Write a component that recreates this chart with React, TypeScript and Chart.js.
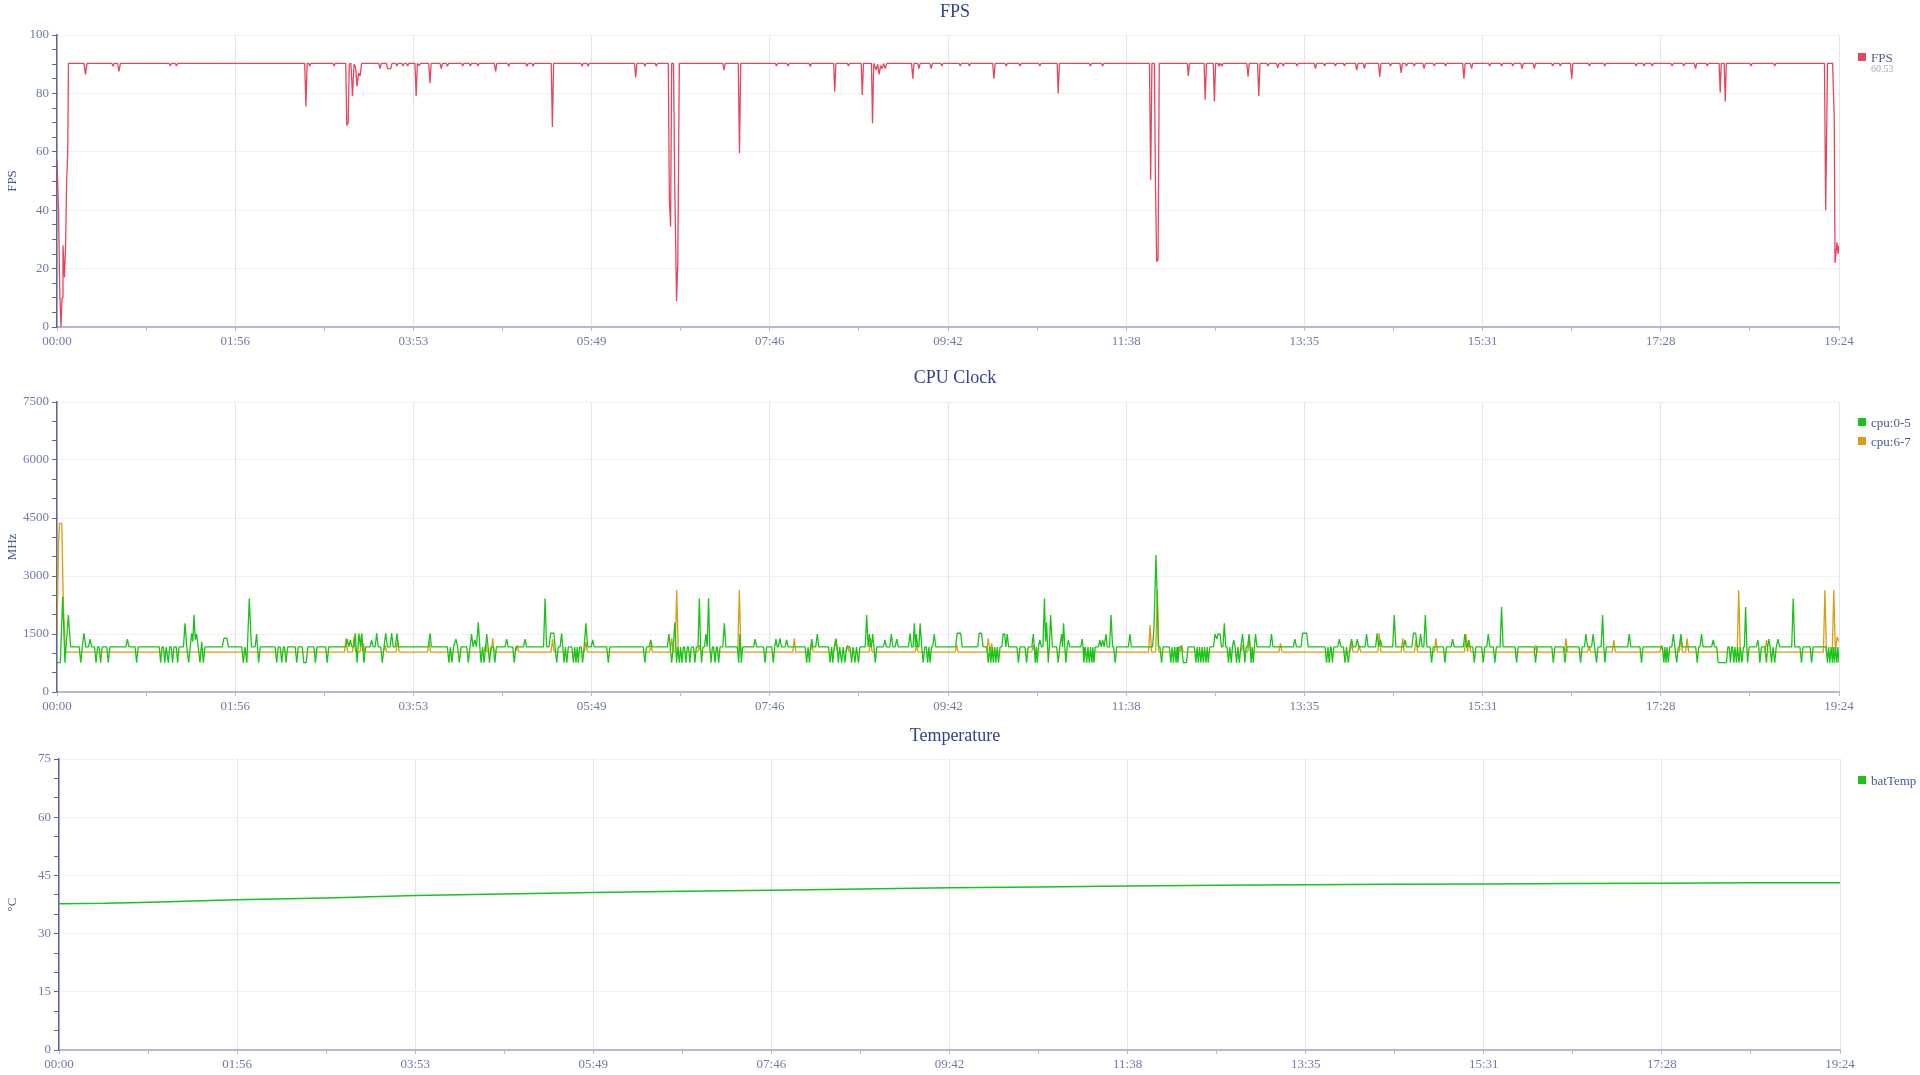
import React, { useEffect, useRef } from 'react';
import { Chart, registerables } from 'chart.js';

Chart.register(...registerables);

type Pair = [number, number];

// ---------- data ----------
const xTickLabels = ['00:00', '01:56', '03:53', '05:49', '07:46', '09:42', '11:38', '13:35', '15:31', '17:28', '19:24'];
const xMaxSeconds = 1164;
const xMinorStepSeconds = 58.2;

const fpsLegendNote = '60.53';

const fpsSeries: Pair[] = [
  [0, 57], [1, 40], [1.8, 12], [2.6, 0], [3.3, 10], [3.9, 28], [4.9, 17], [5.6, 28], [6.3, 50], [7, 60], [7.5, 90.3],
  [17.6, 90.3], [18.6, 86.5], [19.6, 90.3],
  [35.8, 90.3], [36.6, 89.3], [37.4, 90.3],
  [39.6, 90.3], [40.5, 87.5], [41.4, 90.3],
  [73.2, 90.3], [74, 89.4], [74.8, 90.3], [77.2, 90.3], [78, 89.4], [78.8, 90.3],
  [161.8, 90.3], [162.6, 75.5], [163.4, 90.3],
  [164.4, 90.3], [165.1, 89.3], [165.8, 90.3],
  [180.2, 90.3], [181, 89.4], [181.8, 90.3],
  [188.6, 90.3], [189.3, 69], [190.2, 70], [190.9, 90], [192, 90.3], [193, 79], [194, 90], [195, 89], [196, 82.5], [197, 87], [198, 86], [199, 90.3],
  [210.2, 90.3], [211, 88.5], [211.8, 90.3],
  [215.2, 90.3], [216, 88.5], [218, 88.5], [218.8, 90.3],
  [221.2, 90.3], [222, 89.4], [222.8, 90.3], [225.2, 90.3], [226, 89.4], [226.8, 90.3], [228.2, 90.3], [229, 89.4], [229.8, 90.3],
  [233.8, 90.3], [234.6, 79], [235.4, 90.3], [236.5, 89.5], [237.5, 90.3],
  [242.8, 90.3], [243.6, 83.5], [244.4, 90.3],
  [250.2, 90.3], [251, 88.5], [251.8, 90.3],
  [254.2, 90.3], [255, 89.3], [255.8, 90.3],
  [264.2, 90.3], [265, 89.4], [265.8, 90.3], [269.2, 90.3], [270, 89.4], [270.8, 90.3], [274.2, 90.3], [275, 89.4], [275.8, 90.3],
  [285.7, 90.3], [286.5, 87.5], [287.3, 90.3],
  [294.2, 90.3], [295, 89.3], [295.8, 90.3],
  [306.2, 90.3], [307, 89.3], [307.8, 90.3], [310.2, 90.3], [311, 89.3], [311.8, 90.3],
  [322.8, 90.3], [323.6, 68.5], [324.4, 90.3],
  [342.2, 90.3], [343, 89.3], [343.8, 90.3], [346.2, 90.3], [347, 89.3], [347.8, 90.3],
  [377.2, 90.3], [378, 85.5], [378.8, 90.3],
  [383.2, 90.3], [384, 89.3], [384.8, 90.3],
  [390.7, 90.3], [391.5, 89.3], [392.3, 90.3],
  [399.3, 90.3], [400, 43.5], [400.8, 34.4], [401.5, 90.3], [402.7, 90.3], [403.5, 49], [404.7, 8.8], [405.5, 22], [406.5, 90.3],
  [434.9, 90.3], [435.7, 88], [436.5, 90.3],
  [445, 90.3], [445.8, 59.5], [446.6, 90.3],
  [469.2, 90.3], [470, 89.4], [470.8, 90.3], [476.8, 90.3], [477.6, 89.4], [478.4, 90.3],
  [491.2, 90.3], [492, 89.2], [492.8, 90.3],
  [507.3, 90.3], [508, 80.6], [508.8, 90.3],
  [516.2, 90.3], [517, 89.4], [517.8, 90.3],
  [525.3, 90.3], [526, 79.5], [526.8, 90.3],
  [532, 90.3], [532.7, 69.8], [533.5, 90.3], [535, 88], [536, 90], [537, 86.5], [538, 89.5], [539, 88.5], [540, 90.3], [541, 88.5], [542, 90.3],
  [558.2, 90.3], [559, 85], [559.8, 90.3],
  [562.2, 90.3], [563, 88.5], [563.8, 90.3],
  [570.2, 90.3], [571, 88.5], [571.8, 90.3],
  [577.2, 90.3], [578, 89.4], [578.8, 90.3],
  [589.2, 90.3], [590, 89.4], [590.8, 90.3], [595.2, 90.3], [596, 89.4], [596.8, 90.3],
  [611.2, 90.3], [612, 85], [612.8, 90.3],
  [619.2, 90.3], [620, 89.4], [620.8, 90.3], [628.2, 90.3], [629, 89.4], [629.8, 90.3], [641.2, 90.3], [642, 89.4], [642.8, 90.3],
  [653.3, 90.3], [654, 80], [654.8, 90.3],
  [674.2, 90.3], [675, 89.4], [675.8, 90.3], [682.2, 90.3], [683, 89.4], [683.8, 90.3],
  [713.6, 90.3], [714.4, 50.4], [715.2, 90.3], [716.8, 90.3], [717.5, 50], [718.3, 22.4], [719.2, 23], [720, 90.3],
  [738.3, 90.3], [739, 86], [739.7, 90.3],
  [749.3, 90.3], [750, 77.8], [750.8, 90.3],
  [755.3, 90.3], [756, 77.2], [756.8, 90.3],
  [758.4, 90.3], [759, 89.3], [760, 90.3], [761, 89.3], [761.8, 90.3],
  [777.2, 90.3], [778, 85.7], [778.8, 90.3],
  [784.2, 90.3], [785, 79], [785.8, 90.3],
  [790.2, 90.3], [791, 89.4], [791.8, 90.3], [796.6, 90.3], [797.4, 88.8], [798.2, 90.3], [800.2, 90.3], [801, 89.4], [801.8, 90.3],
  [809.2, 90.3], [810, 89.4], [810.8, 90.3], [821.2, 90.3], [822, 88.5], [822.8, 90.3], [827.2, 90.3], [828, 89.4], [828.8, 90.3],
  [834.2, 90.3], [835, 89.4], [835.8, 90.3], [840.2, 90.3], [841, 89.4], [841.8, 90.3], [848.2, 90.3], [849, 88], [849.8, 90.3],
  [853.2, 90.3], [854, 88.5], [854.8, 90.3],
  [863.2, 90.3], [864, 85.7], [864.8, 90.3],
  [870.2, 90.3], [871, 89.4], [871.8, 90.3],
  [877.2, 90.3], [878, 87], [878.8, 90.3],
  [880.7, 90.3], [881.5, 89.4], [882.3, 90.3], [885.8, 90.3], [886.6, 89.4], [887.4, 90.3], [892.2, 90.3], [893, 88.5], [893.8, 90.3],
  [898.8, 90.3], [899.6, 89.4], [900.4, 90.3], [906.2, 90.3], [907, 89.4], [907.8, 90.3],
  [918.2, 90.3], [919, 85], [919.8, 90.3],
  [923.2, 90.3], [924, 88.5], [924.8, 90.3], [935, 90.3], [935.8, 89.4], [936.6, 90.3], [942.8, 90.3], [943.6, 89.4], [944.4, 90.3],
  [950.2, 90.3], [951, 89.4], [951.8, 90.3],
  [956.2, 90.3], [957, 88.5], [957.8, 90.3], [964.2, 90.3], [965, 88.5], [965.8, 90.3],
  [976.2, 90.3], [977, 89.4], [977.8, 90.3], [981.2, 90.3], [982, 89.4], [982.8, 90.3],
  [988.6, 90.3], [989.4, 85], [990.2, 90.3],
  [1000.2, 90.3], [1001, 89.4], [1001.8, 90.3], [1010.2, 90.3], [1011, 89.4], [1011.8, 90.3],
  [1030.7, 90.3], [1031.5, 89.4], [1032.3, 90.3], [1035.9, 90.3], [1036.7, 89.4], [1037.5, 90.3],
  [1041.2, 90.3], [1042, 89.4], [1042.8, 90.3], [1054.2, 90.3], [1055, 89.4], [1055.8, 90.3], [1061.8, 90.3], [1062.6, 89.4], [1063.4, 90.3],
  [1069.5, 90.3], [1070.3, 88.5], [1071.1, 90.3],
  [1077.2, 90.3], [1078, 89.4], [1078.8, 90.3],
  [1085.7, 90.3], [1086.4, 80.3], [1087.1, 90.3], [1089, 90.3], [1089.7, 77.2], [1090.4, 90.3],
  [1105.7, 90.3], [1106.5, 89.4], [1107.3, 90.3], [1121.2, 90.3], [1122, 89.4], [1122.8, 90.3],
  [1154.5, 90.3], [1155.3, 40], [1156.5, 90.3], [1159.8, 90.3], [1160.9, 72], [1161.4, 21.9], [1162.7, 29], [1163.4, 25], [1164, 28],
];

const cpu05Series: Pair[] = [
  [0, 758], [2.2, 758], [3.7, 2460], [5.2, 758], [7.4, 1990], [8.9, 1165],
  [14.5, 1165], [15.5, 758], [16.5, 1165], [17.6, 1520], [18.8, 1165],
  [20.6, 1165], [21.6, 1370], [22.6, 1165],
  [24.5, 1165], [25.5, 758], [26.5, 1165],
  [27.5, 1165], [28.5, 758], [29.5, 1165],
  [32.5, 1165], [33.5, 758], [34.5, 1165],
  [45, 1165], [46, 1370], [47, 1165],
  [51, 1165], [52, 758], [53, 1165],
  [66.8, 1165], [67.7, 758], [68.6, 1165], [69.5, 1165], [70.4, 758], [71.3, 1165], [71.8, 1165], [72.7, 758], [73.6, 1165],
  [74.6, 1165], [75.5, 758], [76.4, 1165], [77.9, 1165], [78.8, 758], [79.7, 1165],
  [82.6, 1165], [83.6, 1775], [84.8, 1165], [86, 758], [87, 1165], [88, 1520], [88.7, 1300], [89.5, 2000], [90.3, 1350], [91.2, 1500],
  [92.2, 1165], [93.4, 758], [94.5, 1300], [95.6, 758], [96.6, 1165],
  [108, 1165], [109, 1390], [111, 1390], [112, 1165],
  [120.7, 1165], [121.7, 758], [122.8, 1165], [124, 758], [125.6, 2420], [127, 1165], [129.4, 1165], [130.4, 1500], [131.7, 758], [132.8, 1165],
  [142.5, 1165], [143.5, 758], [144.5, 1165], [145.8, 1165], [146.8, 758], [147.8, 1165], [148.6, 1165], [149.6, 758], [150.6, 1165],
  [155.6, 1165], [156.6, 758], [157.6, 1165], [160.2, 1165], [161.2, 758], [162.8, 758], [163.8, 1165],
  [167.8, 1165], [168.8, 758], [169.8, 1165], [175.5, 1165], [176.5, 758], [177.5, 1165],
  [188.6, 1165], [189.6, 1370], [190.6, 1165], [191.6, 1345], [192.6, 1165], [194, 1165], [194.8, 1520], [196, 758], [197.2, 1520],
  [198.2, 1165], [199, 1520], [200.5, 758], [201.6, 1165], [204.5, 1165], [205.5, 1345], [206.5, 1165], [207.8, 1165], [208.8, 1520],
  [209.8, 1165], [211.5, 1165], [212.5, 758], [213.6, 1165], [214.7, 1520], [215.8, 1165], [217.6, 1165], [218.6, 1520], [219.6, 1165],
  [221, 1165], [222, 1520], [223, 1165],
  [242.6, 1165], [243.6, 1520], [244.6, 1165],
  [255, 1165], [256, 758], [257, 1165], [258, 758], [259, 1165], [260.6, 1370], [261.7, 1165], [262.8, 758], [263.9, 1165],
  [267.7, 1165], [268.7, 758], [269.8, 1165], [270.8, 1500], [271.8, 1165], [273, 1345], [274, 1165], [275.2, 1800], [276.2, 1165],
  [277, 758], [278, 1165], [279, 758], [280, 1165], [280.7, 1500], [281.6, 1165], [282.5, 758], [283.5, 1165], [285, 1165], [286, 758], [287, 1165],
  [292.7, 1165], [293.7, 1370], [294.7, 1165], [297.7, 1165], [298.7, 758], [299.7, 1165], [304.7, 1165], [305.7, 1370], [306.7, 1165],
  [317.8, 1165], [318.8, 2420], [319.8, 1165], [321.4, 1165], [322.4, 1520], [324.6, 1520], [325.4, 1165], [326.4, 758], [327.4, 1165],
  [328.6, 1165], [329.6, 1520], [330.4, 1165], [331.2, 758], [332.1, 1165], [333, 758], [334, 1165], [336.3, 1165], [337.3, 758],
  [338.2, 1165], [339, 758], [339.8, 1165], [340.5, 758], [341.4, 1165], [342.4, 1165], [343.3, 758], [344.3, 1165], [345.5, 1775],
  [346.6, 1165], [348.9, 1165], [349.9, 1345], [350.9, 1165],
  [359.1, 1165], [360.1, 758], [361.1, 1165],
  [383, 1165], [384, 758], [385, 1165], [386.8, 1165], [387.8, 1345], [388.8, 1165],
  [398.7, 1165], [399.7, 1500], [400.6, 1165], [401.5, 758], [402.5, 1165], [403.6, 1800], [404.7, 758], [405.6, 1165], [406.5, 758],
  [407.4, 1165], [408.2, 758], [409.2, 1165], [409.9, 1165], [410.8, 758], [411.7, 1165], [412.5, 1165], [413.4, 758], [414.3, 1165],
  [415.8, 1165], [416.7, 758], [417.6, 1165], [418.7, 1165], [419.6, 2420], [420.4, 1165], [421, 758], [421.9, 1165], [422.9, 1165],
  [423.9, 1500], [424.7, 1165], [425.6, 2420], [426.4, 1165], [427.2, 758], [428.1, 1165], [428.9, 1165], [429.8, 758], [430.7, 1165],
  [431.3, 1165], [432.2, 758], [433.1, 1165], [434.9, 1165], [435.9, 1775], [436.9, 1165],
  [444.4, 1165], [445.3, 758], [446.1, 1500], [447, 758], [447.9, 1165],
  [455, 1165], [456, 1370], [457, 1165],
  [461.5, 1165], [462.5, 758], [463.5, 1165],
  [466.9, 1165], [467.9, 758], [468.8, 1165], [469.6, 1370], [470.5, 1165], [471.2, 1165], [472.2, 1390], [473.2, 1165],
  [475.6, 1165], [476.6, 1345], [477.6, 1165],
  [488.7, 1165], [489.7, 758], [490.6, 1165], [491.5, 758], [492.3, 1165], [493, 1370], [493.8, 1165], [495.6, 1165], [496.6, 1500], [497.6, 1165],
  [504, 1165], [505, 758], [506, 1165], [506.8, 758], [507.7, 1165], [508.8, 1370], [509.6, 1165], [510.4, 758], [511.3, 1165],
  [512.5, 758], [513.5, 1165], [514.7, 758], [515.7, 1165], [518, 1165], [519, 758], [520, 1165], [521.2, 758], [522.2, 1165],
  [523.5, 758], [524.5, 1165], [527.9, 1165], [528.9, 1990], [529.8, 1165], [530.6, 1500], [531.5, 1165], [532, 1165], [532.8, 1500],
  [533.6, 1165], [534.5, 758], [535.5, 1165],
  [539.8, 1165], [540.8, 1345], [541.8, 1165], [544, 1165], [545, 1500], [546, 1165], [547.5, 1165], [548.5, 1370], [549.5, 1165],
  [556.2, 1165], [557.2, 1520], [558.2, 1165], [559.2, 1165], [560, 1775], [560.8, 1165], [561.4, 1500], [562.2, 1165], [563, 1165],
  [563.8, 1775], [564.8, 1165], [565.8, 758], [566.8, 1165], [567.8, 1165], [568.7, 758], [569.5, 1165], [570.3, 758], [571.2, 1165],
  [572, 1165], [573, 1500], [574, 1165],
  [587, 1165], [588, 1520], [590.3, 1520], [591.3, 1165], [601.4, 1165], [602.4, 1520], [603.9, 1520], [604.9, 1165],
  [607.3, 1165], [608.3, 758], [609.2, 1165], [610, 758], [610.8, 1165], [611.6, 758], [612.5, 1165], [613.3, 758], [614.1, 1165],
  [615, 758], [616, 1165], [617.2, 1165], [618, 1500], [619, 1500], [619.8, 1165], [620.7, 1500], [621.6, 1165],
  [627, 1165], [628, 758], [629, 1165], [632.3, 1165], [633.3, 758], [634.3, 1165], [636.8, 1165], [637.7, 1500], [638.4, 1165],
  [639, 758], [639.7, 1165], [640.3, 758], [641.1, 1165], [642, 1345], [643, 1165], [644, 1165], [645, 2420], [645.7, 1300],
  [646.4, 1800], [647.5, 758], [648.2, 1165], [649, 1990], [650.2, 1165],
  [653, 1165], [654, 758], [655, 1165], [656.2, 1500], [656.8, 1165], [657.5, 1775], [658.3, 1165], [659, 758], [659.8, 1165],
  [660.6, 1345], [661.6, 1165],
  [668.7, 1165], [669.7, 1370], [670.2, 1165], [670.8, 758], [671.6, 1165], [672.6, 758], [673.4, 1165], [674.3, 758], [675.1, 1165],
  [676, 758], [676.6, 1165], [677.3, 758], [678.2, 1165], [680.2, 1165], [681.2, 1345], [682, 1165], [683, 1345], [684, 1165],
  [684.4, 1165], [685.2, 1500], [686, 1165], [687.5, 1165], [688.5, 1990], [689.5, 1165], [690.2, 1165], [691.2, 758], [692.2, 1165],
  [699.8, 1165], [700.8, 1500], [701.8, 1165],
  [715.6, 1165], [716.6, 1700], [717.8, 3540], [718.6, 2500], [719.4, 1165], [720.5, 1165], [721.5, 758], [722.5, 1165],
  [726.6, 1165], [727.6, 758], [728.4, 1165], [729.3, 758], [730.1, 1165], [731, 758], [731.6, 1165], [732.2, 758], [733, 1165],
  [734.6, 1165], [735.7, 758], [737.8, 758], [738.8, 1165],
  [742.9, 1165], [743.9, 758], [744.7, 1165], [745.5, 758], [746.3, 1165], [747.2, 758], [748, 1165], [748.8, 758], [749.6, 1165],
  [750.5, 758], [751.3, 1165], [752, 758], [753, 1165],
  [755.4, 1165], [756.4, 1500], [757.5, 1370], [758.5, 1500], [759.7, 1500], [760.6, 1165], [761.6, 1165], [762.5, 1775], [763.4, 1165],
  [764.3, 1165], [765.2, 758], [766.1, 1165], [767, 758], [767.8, 1165], [768.6, 1345], [769.5, 1165], [770.5, 758], [771.4, 1165],
  [772.3, 758], [773.3, 1165], [774.4, 1500], [775.2, 1165], [775.9, 758], [776.8, 1165], [777.7, 1165], [778.6, 1500], [779.3, 1165],
  [780, 758], [780.7, 1165], [781.4, 758], [782.1, 1165], [782.9, 1500], [783.8, 1165],
  [792.3, 1165], [793.3, 1500], [794.3, 1165],
  [807.6, 1165], [808.6, 1370], [809.6, 1165], [812.6, 1165], [813.6, 1520], [816.3, 1520], [817.3, 1165],
  [828.3, 1165], [829.3, 758], [830.2, 1165], [831, 758], [831.9, 1165], [832.3, 1165], [833.1, 758], [834, 1165], [836.6, 1165],
  [837.6, 1370], [838.6, 1165], [840.3, 1165], [841.3, 758], [842.3, 1165], [843.5, 758], [844.6, 1165], [845.6, 1370], [846.6, 1165],
  [848.3, 1165], [849.3, 1370], [850.3, 1165], [854.4, 1165], [855.4, 1500], [856.4, 1165], [861.3, 1165], [862.3, 1520], [863.3, 1165],
  [864.5, 1345], [865.5, 1165],
  [872.5, 1165], [873.5, 1990], [874.5, 1165], [879.5, 1165], [880.5, 1345], [881.5, 1165], [885, 1165], [886, 1520], [887.5, 1520],
  [888.5, 1165], [889.7, 1165], [890.7, 1500], [891.7, 1165], [892.8, 1165], [893.8, 1990], [894.8, 1165], [896.9, 1165], [897.9, 758], [898.9, 1165],
  [905.6, 1165], [906.6, 758], [907.6, 1165], [910.6, 1165], [911.6, 1370], [912.6, 1165], [918.6, 1165], [919.6, 1500], [920.6, 1165],
  [921.2, 1165], [922, 1345], [922.8, 1165], [924.8, 1165], [925.8, 758], [926.8, 1165], [930.6, 1165], [931.6, 758], [932.6, 1165],
  [933.9, 1165], [934.9, 1500], [935.9, 1165], [938.2, 1165], [939.2, 758], [940.2, 1165], [942.6, 1165], [943.6, 2200], [944.6, 1165],
  [952.4, 1165], [953.4, 758], [954.4, 1165],
  [964.8, 1165], [965.8, 758], [966.8, 1165], [976.4, 1165], [977.4, 758], [978.4, 1165], [984, 1165], [985, 758], [986, 1165],
  [994.2, 1165], [995.2, 758], [996.2, 1165], [997.7, 1165], [998.7, 1500], [999.7, 1165], [1002.4, 1165], [1003.4, 1500], [1004.4, 1165],
  [1005.6, 758], [1006.6, 1165], [1008.6, 1165], [1009.6, 1990], [1010.4, 1165], [1011.1, 758], [1012, 1165], [1026, 1165], [1027, 1500],
  [1028, 1165], [1034, 1165], [1035, 758], [1036, 1165],
  [1048.6, 1165], [1049.6, 758], [1050.3, 1165], [1051, 758], [1051.7, 1165], [1052.5, 758], [1053.4, 1165], [1054.8, 1165], [1055.8, 1500],
  [1056.8, 1165], [1058, 758], [1059, 1165], [1059.7, 1165], [1060.7, 1500], [1061.7, 1165], [1070.4, 1165], [1071.4, 758], [1072.4, 1165],
  [1073.2, 1165], [1074.2, 1500], [1075.2, 1165], [1080.8, 1165], [1081.8, 1345], [1082.8, 1165], [1084.1, 1165], [1085.1, 758], [1090.5, 758],
  [1091.4, 1165], [1092.3, 1165], [1093.1, 758], [1093.9, 1165], [1094.5, 1165], [1095.3, 758], [1096.1, 1165], [1097, 758], [1097.8, 1165],
  [1098.7, 758], [1099.6, 1165], [1100.6, 758], [1101.6, 1165], [1102.2, 1165], [1103, 2200], [1103.8, 1165], [1104.3, 758], [1105.3, 1165],
  [1110, 1165], [1111, 1345], [1111.6, 1165], [1112.3, 758], [1113.3, 1165], [1115.6, 1165], [1116.6, 758], [1117.4, 1165], [1118.1, 1370],
  [1119, 1165], [1119.9, 758], [1120.9, 1165], [1122, 758], [1123, 1165], [1124.2, 1370], [1125.2, 1165], [1133.1, 1165], [1134.1, 2420],
  [1135.1, 1165], [1138.5, 1165], [1139.5, 758], [1140.5, 1165], [1145.1, 1165], [1146.1, 758], [1147.1, 1165], [1155.5, 1165], [1156.5, 758],
  [1157.2, 1165], [1158, 758], [1158.8, 1165], [1159.7, 758], [1160.4, 1165], [1161.1, 758], [1161.8, 1165], [1162.6, 758], [1163.3, 1165], [1164, 758],
];

const cpu67Series: Pair[] = [
  [0, 1500], [1, 3800], [1.6, 4360], [3.1, 4360], [4.2, 2200], [5.5, 1030],
  [187.8, 1030], [188.8, 1390], [189.8, 1030], [193, 1030], [194, 1430], [195, 1030],
  [198, 1030], [199, 1500], [199.6, 1030], [200.2, 1260], [201, 1030],
  [213.3, 1030], [214.3, 1215], [215.3, 1030], [221.5, 1030], [222.5, 1345], [223.5, 1030],
  [242, 1030], [243, 1300], [244, 1030], [279, 1030], [280, 1260], [281, 1030], [283.6, 1030], [284.6, 1390], [285.6, 1030],
  [299.6, 1030], [300.6, 1215], [301.6, 1030], [322.7, 1030], [323.7, 1360], [324.7, 1030], [344.5, 1030], [345.5, 1300], [346.5, 1030],
  [387, 1030], [388, 1215], [389, 1030],
  [400.5, 1030], [401.5, 1390], [402.5, 1030], [403.8, 1030], [404.8, 2635], [405.8, 1030],
  [418.5, 1030], [419.5, 1215], [420.5, 1030], [444.7, 1030], [445.7, 2635], [446.7, 1030],
  [480.6, 1030], [481.6, 1390], [482.6, 1030], [492, 1030], [493, 1260], [494, 1030],
  [507.6, 1030], [508.6, 1390], [509.6, 1030], [515.4, 1030], [516.4, 1215], [517.4, 1030], [530.4, 1030], [531.4, 1390], [532.4, 1030],
  [560.5, 1030], [561.5, 1215], [562.5, 1030], [586.6, 1030], [587.6, 1215], [588.6, 1030],
  [607.3, 1030], [608.3, 1390], [609.3, 1030], [610.5, 1260], [611.5, 1030],
  [636.7, 1030], [637.7, 1215], [638.7, 1030],
  [713, 1030], [714, 1730], [715, 1030], [717.7, 1030], [718.7, 2635], [719.7, 1030],
  [733.6, 1030], [734.6, 1215], [735.6, 1030], [773.4, 1030], [774.4, 1215], [775.4, 1030], [777.8, 1030], [778.8, 1430], [779.8, 1030],
  [798.2, 1030], [799.2, 1260], [800.2, 1030], [844.6, 1030], [845.6, 1260], [846.6, 1030], [849.6, 1030], [850.6, 1215], [851.6, 1030],
  [862.7, 1030], [863.7, 1515], [864.7, 1030], [878, 1030], [879, 1390], [880, 1030], [886.7, 1030], [887.7, 1360], [888.7, 1030],
  [899.7, 1030], [900.7, 1390], [901.7, 1030], [919.3, 1030], [920.3, 1500], [921.3, 1030], [922.4, 1345], [923.4, 1030],
  [965, 1030], [966, 1215], [967, 1030], [984.6, 1030], [985.6, 1390], [986.6, 1030], [999.8, 1030], [1000.8, 1190], [1001.8, 1030],
  [1015.9, 1030], [1016.9, 1345], [1017.9, 1030], [1047, 1030], [1048, 1215], [1049, 1030],
  [1059.7, 1030], [1060.7, 1430], [1061.7, 1030], [1063.8, 1030], [1064.8, 1390], [1065.8, 1030],
  [1097.5, 1030], [1098.5, 2635], [1099.5, 1030], [1115.6, 1030], [1116.6, 1345], [1117.6, 1030],
  [1153.8, 1030], [1154.8, 2635], [1155.8, 1030], [1159.6, 1030], [1160.6, 2635], [1161.6, 1030], [1162.8, 1430], [1164, 1300],
];

const batTempSeries: Pair[] = [
  [0, 37.7], [30, 37.8], [60, 38.1], [116, 38.7], [175, 39.2], [233, 39.8], [290, 40.2], [349, 40.6], [407, 40.9],
  [466, 41.2], [524, 41.5], [582, 41.8], [640, 42], [698, 42.25], [757, 42.45], [815, 42.6], [873, 42.7], [931, 42.8],
  [990, 42.9], [1048, 43], [1106, 43.1], [1164, 43.1],
];

// ---------- styles ----------
const FONT = '"Liberation Serif", "DejaVu Serif", serif';
const TICK_COLOR = '#6f7aa8';
const AXIS_Y = '#5e6898';
const AXIS_X = '#b4bad4';
const GRID = '#e2e5ee';
const TITLE_COLOR = '#33428a';
const LEGEND_TEXT = '#4b5894';
const RED = '#e6465c';
const GREEN = '#1ac31a';
const ORANGE = '#d8a010';

interface SeriesSpec { label: string; color: string; data: Pair[]; width: number; }
interface PanelSpec {
  top: number; height: number; padTop: number; padBottom: number; padRight: number; axisWidth: number;
  title: string; titleCenterY: number;
  yTitle: string; yMax: number; yMajor: number; yMinor: number;
  series: SeriesSpec[]; legendTop: number; note?: string;
}

const panels: PanelSpec[] = [
  {
    top: 0, height: 358, padTop: 35, padBottom: 9, padRight: 81, axisWidth: 57,
    title: 'FPS', titleCenterY: 11, yTitle: 'FPS', yMax: 100, yMajor: 20, yMinor: 5,
    series: [{ label: 'FPS', color: RED, data: fpsSeries, width: 1.3 }], legendTop: 47.5, note: fpsLegendNote,
  },
  {
    top: 358, height: 358, padTop: 44, padBottom: 2, padRight: 81, axisWidth: 57,
    title: 'CPU Clock', titleCenterY: 377, yTitle: 'MHz', yMax: 7500, yMajor: 1500, yMinor: 500,
    series: [
      { label: 'cpu:0-5', color: GREEN, data: cpu05Series, width: 1.3 },
      { label: 'cpu:6-7', color: ORANGE, data: cpu67Series, width: 1.3 },
    ], legendTop: 412.5,
  },
  {
    top: 716, height: 359, padTop: 43, padBottom: 3, padRight: 80, axisWidth: 59,
    title: 'Temperature', titleCenterY: 735, yTitle: '°C', yMax: 75, yMajor: 15, yMinor: 5,
    series: [{ label: 'batTemp', color: GREEN, data: batTempSeries, width: 1.5 }], legendTop: 770.5,
  },
];

function Panel({ spec }: { spec: PanelSpec }) {
  const ref = useRef<HTMLCanvasElement>(null);
  useEffect(() => {
    const canvas = ref.current;
    if (!canvas) return;
    const isMajor = (v: number) => Math.abs(v / spec.yMajor - Math.round(v / spec.yMajor)) < 1e-6;
    const chart = new Chart(canvas, {
      type: 'line',
      data: {
        datasets: spec.series.map((s) => ({
          label: s.label,
          data: s.data.map(([x, y]) => ({ x, y })),
          borderColor: s.color,
          backgroundColor: s.color,
          borderWidth: s.width,
          borderJoinStyle: 'bevel' as const,
          pointRadius: 0,
          pointHoverRadius: 0,
          fill: false,
          tension: 0,
        })),
      },
      options: {
        responsive: false,
        animation: false,
        events: [],
        layout: { padding: { top: spec.padTop, bottom: spec.padBottom, left: 0, right: spec.padRight } },
        plugins: { legend: { display: false }, tooltip: { enabled: false }, title: { display: false } },
        scales: {
          x: {
            type: 'linear',
            min: 0,
            max: xMaxSeconds,
            afterFit: (s: any) => { s.height = 22; },
            ticks: {
              stepSize: xMinorStepSeconds,
              autoSkip: false,
              maxRotation: 0,
              minRotation: 0,
              padding: 3,
              color: TICK_COLOR,
              font: { family: FONT, size: 13 },
              callback: (_v: any, i: number) => (i % 2 === 0 ? xTickLabels[i / 2] ?? '' : ''),
            },
            grid: {
              color: (c: any) => (c.index % 2 === 0 ? GRID : 'rgba(0,0,0,0)'),
              tickColor: AXIS_X,
              tickLength: 4,
              lineWidth: 1,
            },
            border: { color: AXIS_X, width: 2 },
          },
          y: {
            type: 'linear',
            min: 0,
            max: spec.yMax,
            afterFit: (s: any) => { s.width = spec.axisWidth; },
            ticks: {
              stepSize: spec.yMinor,
              autoSkip: false,
              padding: 3,
              color: TICK_COLOR,
              font: { family: FONT, size: 13 },
              callback: (v: any) => (isMajor(Number(v)) ? String(v) : ''),
            },
            grid: {
              color: (c: any) => (c.tick && isMajor(c.tick.value) ? GRID : 'rgba(0,0,0,0)'),
              tickColor: AXIS_Y,
              tickLength: 5,
              lineWidth: 1,
            },
            border: { color: AXIS_Y, width: 1.5, dash: [2, 2] },
            title: {
              display: true,
              text: spec.yTitle,
              color: LEGEND_TEXT,
              font: { family: FONT, size: 13 },
              padding: { top: 5, bottom: 0 },
            },
          },
        },
      } as any,
    });
    return () => chart.destroy();
  }, [spec]);

  return (
    <>
      <canvas
        ref={ref}
        width={1920}
        height={spec.height}
        style={{ position: 'absolute', left: 0, top: spec.top, width: 1920, height: spec.height, display: 'block' }}
      />
      <div
        style={{
          position: 'absolute', left: 0, width: 1910, top: spec.titleCenterY - 10, height: 20, lineHeight: '20px',
          textAlign: 'center', fontFamily: FONT, fontSize: 18, color: TITLE_COLOR,
        }}
      >
        {spec.title}
      </div>
      <div style={{ position: 'absolute', left: 1858, top: spec.legendTop, fontFamily: FONT }}>
        {spec.series.map((s) => (
          <div key={s.label} style={{ display: 'flex', alignItems: 'center', height: 19 }}>
            <span style={{ display: 'inline-block', width: 8, height: 8, background: s.color, marginRight: 5 }} />
            <span style={{ fontSize: 13, color: LEGEND_TEXT, lineHeight: '19px' }}>{s.label}</span>
          </div>
        ))}
        {spec.note ? (
          <div style={{ marginLeft: 13, marginTop: -3, fontSize: 10, lineHeight: '10px', color: '#a3aac8' }}>{spec.note}</div>
        ) : null}
      </div>
    </>
  );
}

export default function App() {
  return (
    <div style={{ position: 'absolute', left: 0, top: 0, width: 1920, height: 1075, background: '#ffffff', overflow: 'hidden' }}>
      {panels.map((p) => (
        <Panel key={p.title} spec={p} />
      ))}
    </div>
  );
}
